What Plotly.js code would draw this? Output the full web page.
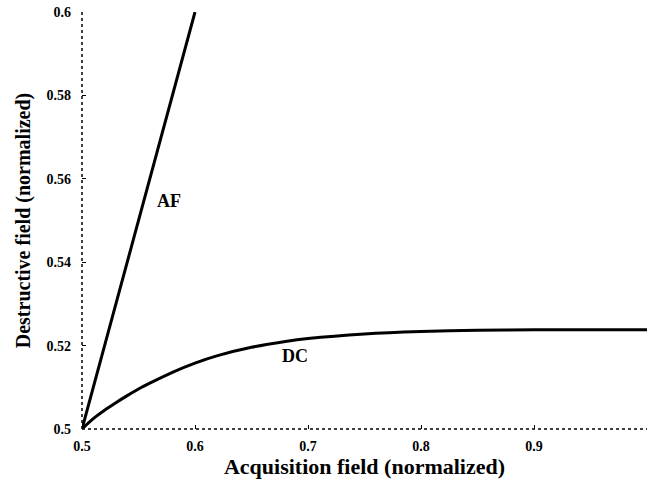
<!DOCTYPE html>
<html>
<head>
<meta charset="utf-8">
<script src="https://cdn.plot.ly/plotly-3.0.1.min.js"></script>
<style>html,body{margin:0;padding:0;background:#fff;}#chart{width:648px;height:487px;}</style>
</head>
<body>
<div id="chart"></div>
<script>
// AF curve
const afX = [0.5, 0.6];
const afY = [0.5, 0.6];
// DC curve
const dcX = [0.5, 0.505, 0.51, 0.52, 0.53, 0.54, 0.55, 0.56, 0.58, 0.60, 0.62, 0.65, 0.68, 0.70, 0.75, 0.80, 0.85, 0.90, 0.95, 1.00];
const dcY = [0.5, 0.5013, 0.5025, 0.5045, 0.5063, 0.5080, 0.5096, 0.5110, 0.5136, 0.5158, 0.5176, 0.5196, 0.5210, 0.5217, 0.5228, 0.5234, 0.5237, 0.5238, 0.5238, 0.5238];
const xTicks = [0.5, 0.6, 0.7, 0.8, 0.9, 1];
const xTickText = ['0.5', '0.6', '0.7', '0.8', '0.9', '1'];
const yTicks = [0.5, 0.52, 0.54, 0.56, 0.58, 0.6];
const yTickText = ['0.5', '0.52', '0.54', '0.56', '0.58', '0.6'];
const labels = [{text: 'AF', x: 0.577, y: 0.5546}, {text: 'DC', x: 0.6885, y: 0.5174}];

const serif = 'Liberation Serif, Times New Roman, serif';
const traces = [
  {x: afX, y: afY, mode: 'lines', line: {color: '#000', width: 3}, hoverinfo: 'skip'},
  {x: dcX, y: dcY, mode: 'lines', line: {color: '#000', width: 3, shape: 'spline', smoothing: 0.6}, hoverinfo: 'skip'}
];
const layout = {
  width: 648, height: 487,
  margin: {l: 82, r: 1, t: 12, b: 58},
  paper_bgcolor: '#fff', plot_bgcolor: '#fff',
  showlegend: false,
  font: {family: serif, color: '#000'},
  xaxis: {
    range: [0.5, 1.0], tickvals: xTicks, ticktext: xTickText,
    showgrid: false, zeroline: false, showline: false,
    ticks: 'inside', ticklen: 4, tickcolor: '#000',
    ticklabelstandoff: 7,
    tickfont: {family: serif, size: 14, weight: 'bold'},
    title: {text: 'Acquisition field (normalized)', font: {family: serif, size: 22, weight: 'bold'}, standoff: 3}
  },
  yaxis: {
    range: [0.5, 0.6], tickvals: yTicks, ticktext: yTickText,
    showgrid: false, zeroline: false, showline: false,
    ticks: 'inside', ticklen: 4, tickcolor: '#000',
    ticklabelstandoff: 10,
    tickfont: {family: serif, size: 14, weight: 'bold'},
    title: {text: 'Destructive field (normalized)', font: {family: serif, size: 20, weight: 'bold'}, standoff: 10}
  },
  shapes: [
    {type: 'line', xref: 'paper', yref: 'paper', x0: 0, x1: 0, y0: 0, y1: 1, line: {color: '#000', width: 1.5, dash: 'dot'}},
    {type: 'line', xref: 'paper', yref: 'paper', x0: 0, x1: 1, y0: 0, y1: 0, line: {color: '#000', width: 1.5, dash: 'dot'}}
  ],
  annotations: labels.map(l => ({
    text: l.text, x: l.x, y: l.y, xref: 'x', yref: 'y', showarrow: false,
    font: {family: serif, size: 18, weight: 'bold', color: '#000'}
  }))
};
Plotly.newPlot('chart', traces, layout, {displayModeBar: false, staticPlot: true});
</script>
</body>
</html>
